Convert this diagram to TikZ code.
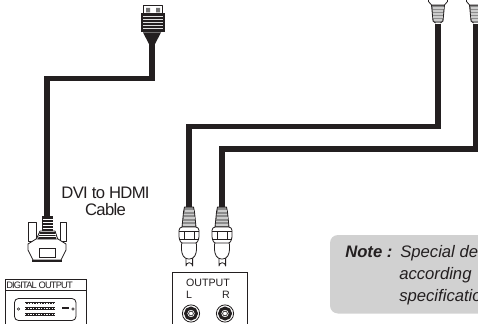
\documentclass[tikz,border=0pt]{standalone}
\usepackage{fontspec}
\setmainfont{Liberation Sans}
\definecolor{ink}{HTML}{231F20}
\tikzset{
 cable/.style={draw=ink,line width=4.2pt,line join=miter},
 part/.style={draw=ink,line width=0.6pt,fill=white,line join=round},
 thin part/.style={draw=ink,line width=0.4pt},
 panel/.style={draw=ink,line width=0.6pt},
 label/.style={inner sep=0pt,text=ink},
 rcaplug/.pic={
  \draw[part,fill=black!45] (-4.5,0) -- (-5.5,5) -- (-7,20) -- (7,20) -- (5.5,5) -- (4.5,0) -- cycle;
  \foreach \yy/\w in {4/4.5,7.5/5,11/5.5,14.5/6,18/6.3}
    \draw[black!20,line width=0.9pt] (-\w,\yy) -- (\w,\yy);
  \draw[part] (-3,51) -- (-3,59) arc[start angle=180,end angle=360,radius=3.3] -- (3.6,51);
  \draw[part,rounded corners=2.5pt] (-7.5,34) -- (-7.5,46) -- (-4,52) -- (4,52) -- (7.5,46) -- (7.5,34) -- cycle;
  \draw[part,rounded corners=1pt] (-10,22) -- (-8,20) -- (8,20) -- (10,22) -- (10,31) -- (8,36) -- (-8,36) -- (-10,31) -- cycle;
  \draw[thin part] (-10,24) -- (-5,24) -- (-5,32) -- (-10,32) (10,24) -- (5,24) -- (5,32) -- (10,32) (-5,24) -- (5,24) (-5,32) -- (5,32);
 },
 rcatop/.pic={
  \draw[part,fill=black!45] (-2.5,23) -- (-5,21) -- (-6.5,5) -- (6.5,5) -- (5,21) -- (2.5,23);
  \foreach \yy/\w in {8/5.5,11/5.2,14/5,17/4.7,20/4.4}
    \draw[black!20,line width=0.9pt] (-\w,\yy) -- (\w,\yy);
  \draw[part] (-9.5,-1) -- (-9.5,1.5) -- (-6.5,5) -- (6.5,5) -- (9.5,1.5) -- (9.5,-1);
 },
 jack/.pic={
  \draw[ink,line width=0.6pt] (0,0) circle (8.6);
  \draw[ink,line width=2.3pt] (0,0) circle (5.4);
  \fill[white] (0,0) circle (3);
  \draw[ink,line width=0.5pt] (0,0) circle (2.4);
 }
}
\newfontface\tightface{Liberation Sans}[LetterSpace=-4]
\newfontface\tighterface{Liberation Sans}[LetterSpace=-9]
\begin{document}
\begin{tikzpicture}[x=0.75pt,y=-0.75pt]
\useasboundingbox (0,0) rectangle (478,324);
\fill[white] (0,0) rectangle (478,324);
% note box
\fill[black!18,rounded corners=6pt] (330,235) rectangle (490,313.5);
\node[label,anchor=base west,font=\fontsize{12.5}{14}\selectfont\bfseries\itshape] (note) at (345,257) {Note :};
\node[label,anchor=base west,font=\fontsize{12.5}{14}\selectfont\itshape] (n1) at (400,257) {Special de};
\node[label,anchor=base west,font=\fontsize{12.5}{14}\selectfont\itshape] (n2) at (399,279) {according};
\node[label,anchor=base west,font=\fontsize{12.5}{14}\selectfont\itshape] (n3) at (399,301.5) {specificatio};
% named ends
\coordinate (hdmi) at (152,36);
\coordinate (dvi) at (47,222);
\coordinate (la) at (189,212);
\coordinate (lb) at (438,24);
\coordinate (ra) at (222,212);
\coordinate (rb) at (476,24);
% cables
\draw[cable] (hdmi) |- (dvi |- 0,78.5) -- (dvi);
\draw[cable] (la) |- (lb |- 0,126.5) -- (lb);
\draw[cable] (ra) |- (rb |- 0,149) -- (rb);
% HDMI plug
\draw[part] (143.5,5.5) rectangle (162.5,14);
\fill[black!55] (146,8) rectangle (150,12.5) (156,8) rectangle (160,12.5);
\fill[ink] (141,13.5) rectangle (165,32.5);
\foreach \yy in {16.5,19.5,22.5,25.5,28.5}
  \draw[black!12,line width=1.3pt] (143,\yy) -- (163,\yy);
\fill[ink] (143,32.5) -- (161,32.5) -- (155,44) -- (149,44) -- cycle;
% DVI plug
\draw[part] (28,222) rectangle (36,241);
\draw[part] (60,222) rectangle (66,241);
\draw[part] (36,240) -- (40,231) -- (55,231) -- (58,240) -- cycle;
\fill[ink] (42,216) rectangle (53,231);
\foreach \yy in {219,222,225,228}
  \draw[white,line width=0.6pt] (42.5,\yy) -- (52.5,\yy);
\draw[part] (28,244) -- (36,239) -- (58,239) -- (66,244) -- (66,250) -- (61,260) -- (33,260) -- (28,250) -- cycle;
\fill[ink] (40,232) -- (55,232) -- (56,239) -- (38,239) -- cycle;
\foreach \yy in {234,236.5}
  \draw[white,line width=0.7pt] (39,\yy) -- (56,\yy);
\draw[thin part] (39,248) rectangle (55,257);
\draw[ink,line width=1pt] (32,261) -- (62,261);
% left panel
\draw[panel] (5,324) -- (5,279.5) -- (86,279.5) -- (86,324);
\draw[panel] (5,290) -- (86,290);
\node[label,anchor=base west,font=\fontsize{7}{8}\tighterface] (dout) at (6,288) {DIGITAL OUTPUT};
\draw[part,rounded corners=3pt] (14.5,298.5) rectangle (76,320.5);
\draw[thin part] (18.5,309) circle (1.3) (73,309) circle (1.3);
\foreach \yy in {303,308.5,314.5}{
  \draw[ink,line width=2pt] (25,\yy) -- (55,\yy);
  \draw[white,line width=0.7pt,dash pattern=on 1pt off 1pt] (25,\yy) -- (55,\yy);
}
\draw[ink,line width=1pt] (62,308) -- (69,308);
% labels
\node[label,anchor=base,font=\fontsize{12.5}{14}\tightface] (l1) at (105.5,198) {DVI to HDMI};
\node[label,anchor=base,font=\fontsize{12.5}{14}\tightface] (l2) at (105.5,215) {Cable};
% RCA plugs
\pic at (189,207) {rcaplug};
\pic at (222,207) {rcaplug};
\pic at (438,0) {rcatop};
\pic at (476,0) {rcatop};
% output panel
\draw[panel] (172,324) -- (172,272) -- (247.5,272) -- (247.5,324);
\node[label,anchor=base,font=\fontsize{8}{10}\selectfont] (o) at (208,286) {OUTPUT};
\node[label,anchor=base,font=\fontsize{8}{10}\selectfont] (ll) at (189,298) {L};
\node[label,anchor=base,font=\fontsize{8}{10}\selectfont] (rr) at (226,298) {R};
\pic at (191,313.5) {jack};
\pic at (225,313.5) {jack};
\end{tikzpicture}
\end{document}
